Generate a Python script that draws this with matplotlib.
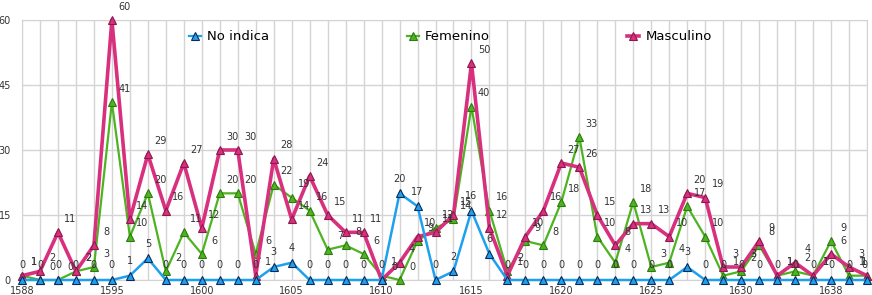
import matplotlib
matplotlib.use("Agg")
import matplotlib.pyplot as plt
from matplotlib.lines import Line2D

years = (["1588", "1589", "1591", "1592", "1594", "1595", "1596", "1597", "1598", "1599"]
         + [str(y) for y in range(1600, 1631)]
         + ["1632", "1634", "1635", "1636", "1638", "1639", "1640"])

no_indica = [0, 0, 0, 0, 0, 0, 1, 5, 0, 0,
             0, 0, 0, 0, 3, 4, 0, 0, 0, 0,
             0, 20, 17, 0, 2, 16, 6, 0, 0, 0,
             0, 0, 0, 0, 0, 0, 0, 3, 0, 0,
             0, 0, 0, 0, 0, 0, 0, 0]
femenino = [1, 0, 0, 2, 3, 41, 10, 20, 2, 11,
            6, 20, 20, 6, 22, 19, 16, 7, 8, 6,
            1, 0, 9, 12, 14, 40, 16, 2, 9, 8,
            18, 33, 10, 4, 18, 3, 4, 17, 10, 1,
            2, 8, 1, 2, 1, 9, 1, 1]
masculino = [1, 2, 11, 2, 8, 60, 14, 29, 16, 27,
             12, 30, 30, 1, 28, 14, 24, 15, 11, 11,
             0, 4, 10, 11, 15, 50, 12, 1, 10, 16,
             27, 26, 15, 8, 13, 13, 10, 20, 19, 3,
             3, 9, 1, 4, 1, 6, 3, 1]

C_BLUE = "#1EA0F0"
C_GREEN = "#4DB320"
C_PINK = "#D8307E"

x = list(range(len(years)))
last = len(years) - 1

fig = plt.figure(figsize=(8.72, 2.95), dpi=100, facecolor="white")
ax = fig.add_axes([22 / 872, 15 / 295, 845 / 872, 260 / 295])

series = [
    ("Femenino", femenino, C_GREEN, "#2f7a10", 1.6, (9, 6)),
    ("Masculino", masculino, C_PINK, "#8a1a4c", 2.6, (9, 6)),
    ("No indica", no_indica, C_BLUE, "#0b2a55", 1.8, (0, 7)),
]
for name, vals, col, edge, lw, off in series:
    ax.plot(x, vals, color=col, linewidth=lw, marker="^", markersize=5.5,
            markerfacecolor=col, markeredgecolor=edge, markeredgewidth=0.8,
            clip_on=False, zorder=3)
    for xi, v in zip(x, vals):
        # keep the last labels inside the figure
        o = off if xi < last else (min(off[0], 0), off[1])
        ax.annotate(str(v), (xi, v), xytext=o, textcoords="offset points",
                    ha="center" if xi < last else "right", va="bottom",
                    fontsize=7, color="#333333", annotation_clip=False, zorder=4)

ax.set_xlim(0, last)
ax.set_ylim(0, 60)
ax.set_yticks([0, 15, 30, 45, 60])
ax.set_xticks(x)
ax.set_xticklabels([y if i % 5 == 0 else "" for i, y in enumerate(years)])
ax.tick_params(length=0, labelsize=7, colors="#333333", pad=4)
ax.tick_params(axis="y", pad=8)
ax.grid(True, color="#d4d4d4", linewidth=1)
ax.set_axisbelow(True)
for s in ax.spines.values():
    s.set_color("#d4d4d4")

handles = [
    Line2D([], [], color=C_BLUE, marker="^", markersize=6, markeredgecolor="#0b2a55",
           markeredgewidth=0.8, linewidth=1.6),
    Line2D([], [], color=C_GREEN, marker="^", markersize=6, markeredgecolor="#2f7a10",
           markeredgewidth=0.8, linewidth=1.6),
    Line2D([], [], color=C_PINK, marker="^", markersize=6, markeredgecolor="#8a1a4c",
           markeredgewidth=0.8, linewidth=2.6),
]
fig.legend(handles, ["No indica", "Femenino", "Masculino"], ncol=3,
           loc="center left", bbox_to_anchor=(177 / 872, 1 - 37 / 295),
           frameon=False, fontsize=9.5, handlelength=0.9, handletextpad=0.5,
           columnspacing=10.4)

plt.savefig("out.png", dpi=100, facecolor="white")
plt.close()
